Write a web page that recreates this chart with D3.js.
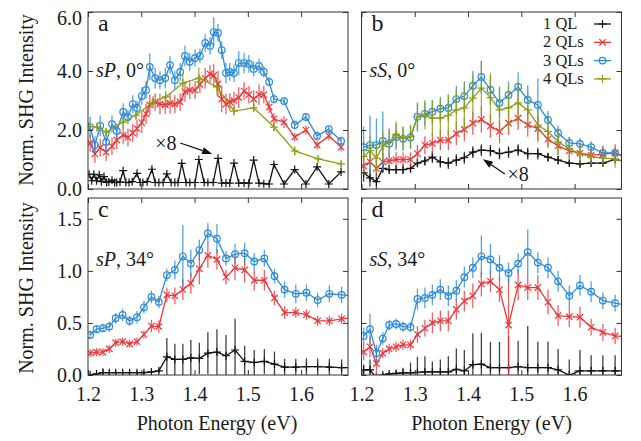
<!DOCTYPE html>
<html>
<head>
<meta charset="utf-8">
<script src="https://cdn.jsdelivr.net/npm/d3@7"></script>
<style>
body { margin: 0; background: #fff; }
svg text { font-family: "Liberation Serif", "DejaVu Serif", serif; fill: #1a1a1a; }
</style>
</head>
<body>
<svg id="chart"></svg>
<script>
// photon energies (eV)
const energy10 = [1.204,1.216,1.228,1.240,1.252,1.265,1.278,1.292,1.305,1.319,1.333,1.348,1.363,1.378,1.393,1.409,1.425,1.442,1.459,1.476,1.494,1.512,1.531,1.550,1.569,1.590,1.610,1.631,1.653,1.676,1.698];
const energyA = [1.204,1.213,1.223,1.234,1.245,1.254,1.266,1.275,1.284,1.292,1.301,1.309,1.316,1.326,1.335,1.345,1.354,1.363,1.373,1.382,1.391,1.401,1.410,1.420,1.429,1.436,1.444,1.451,1.459,1.466,1.474,1.483,1.493,1.502,1.511,1.521,1.530,1.540,1.549,1.568,1.588,1.609,1.630,1.652,1.675];
const energyA4 = [1.202,1.217,1.234,1.266,1.290,1.322,1.346,1.378,1.408,1.442,1.474,1.511,1.549,1.588,1.632,1.675];
const energyA1 = [1.202,1.207,1.211,1.216,1.221,1.225,1.230,1.235,1.239,1.245,1.250,1.254,1.260,1.266,1.271,1.277,1.283,1.292,1.298,1.303,1.311,1.320,1.326,1.333,1.341,1.348,1.356,1.363,1.369,1.376,1.384,1.391,1.401,1.408,1.418,1.425,1.435,1.444,1.451,1.459,1.466,1.474,1.483,1.493,1.502,1.511,1.521,1.530,1.540,1.549,1.568,1.588,1.609,1.630,1.652,1.675];

// panel a: sP, 0 deg
const a1QL = [0.50,0.28,0.50,0.28,0.48,0.25,0.42,0.22,0.24,0.30,0.22,0.22,0.24,0.62,0.22,0.22,0.25,0.53,0.22,0.22,0.25,0.67,0.22,0.22,0.22,0.51,0.22,0.22,0.22,0.87,0.22,0.22,0.22,1.00,0.22,0.22,0.22,1.04,0.20,0.20,0.20,0.88,0.20,0.20,0.20,0.98,0.20,0.18,0.17,0.83,0.17,0.66,0.17,0.75,0.17,0.58];
const a2QL = [1.56,1.19,1.40,1.25,1.45,1.66,1.83,1.75,1.90,2.05,2.25,2.55,2.85,2.95,2.88,2.85,2.90,2.88,2.95,3.30,3.35,3.35,3.55,3.75,3.90,3.85,3.56,3.05,2.88,2.95,3.00,3.10,3.32,3.20,3.05,3.20,3.20,2.78,2.37,2.27,1.76,2.00,1.49,1.80,1.42];
const a2Err = [0.3,0.3,0.3,0.3,0.3,0.3,0.3,0.3,0.3,0.3,0.35,0.35,0.35,0.3,0.35,0.3,0.35,0.3,0.3,0.35,0.3,0.3,0.3,0.35,0.3,0.4,0.45,0.45,0.35,0.3,0.3,0.35,0.3,0.3,0.3,0.35,0.3,0.2,0.2,0.2,0.15,0.15,0.15,0.15,0.15];
const a3QL = [2.10,1.49,2.14,1.59,2.20,1.97,2.61,2.44,2.88,2.75,3.15,3.36,4.14,3.76,3.69,3.76,4.20,3.69,3.97,4.51,4.31,4.44,4.51,4.95,4.85,5.32,5.29,4.71,3.93,3.97,3.93,4.27,4.27,4.24,4.07,4.17,3.97,3.63,3.05,2.98,2.17,2.44,1.80,2.03,1.63];
const a3Err = [0.35,0.3,0.35,0.3,0.3,0.25,0.3,0.25,0.3,0.25,0.3,0.3,0.45,0.35,0.3,0.35,0.3,0.3,0.3,0.35,0.3,0.3,0.25,0.3,0.3,0.5,0.3,0.3,0.35,0.3,0.3,0.4,0.35,0.3,0.25,0.25,0.2,0.15,0.15,0.1,0.15,0.1,0.15,0.1,0.15];
const a4QL = [2.12,2.10,1.93,2.27,2.50,2.95,3.12,3.59,3.76,3.46,2.64,2.75,2.10,1.29,1.02,0.85];
const a4Err = [0.15,0.15,0.15,0.2,0.15,0.2,0.2,0.3,0.35,0.3,0.15,0.15,0.15,0.15,0.1,0.1];

// panel b: sS, 0 deg
const b1QL = [0.55,0.38,0.25,0.70,0.66,0.66,0.66,0.70,0.88,0.95,1.08,0.92,0.88,0.98,1.06,1.25,1.32,1.30,1.20,1.25,1.32,1.20,1.20,1.08,0.98,0.88,0.85,0.88,0.88,1.00,0.92];
const b1Err = [0.3,0.3,0.3,0.15,0.15,0.15,0.15,0.15,0.15,0.15,0.2,0.2,0.2,0.2,0.2,0.2,0.2,0.2,0.2,0.2,0.2,0.2,0.2,0.15,0.15,0.1,0.1,0.1,0.1,0.1,0.1];
const b2QL = [0.78,0.92,0.70,0.92,0.95,1.00,1.00,1.00,1.20,1.49,1.55,1.66,1.66,1.88,2.02,2.23,2.36,2.14,1.95,2.23,2.40,2.17,2.05,1.69,1.46,1.29,1.22,1.15,1.18,1.22,1.08];
const b2Err = [0.3,0.3,0.3,0.3,0.25,0.25,0.25,0.25,0.3,0.3,0.35,0.35,0.35,0.4,0.4,0.4,0.45,0.4,0.4,0.4,0.4,0.4,0.4,0.3,0.3,0.25,0.25,0.3,0.3,0.3,0.3];
const b3QL = [1.42,1.49,1.49,1.63,1.53,1.76,1.70,1.75,2.45,2.55,2.62,2.72,2.75,3.05,3.15,3.50,3.80,3.36,2.92,3.19,3.46,3.02,2.85,2.34,1.90,1.56,1.53,1.42,1.22,1.22,1.05];
const b3Err = [0.7,1.0,0.9,1.0,0.5,0.45,0.4,0.4,0.45,0.4,0.4,0.4,0.45,0.45,0.5,0.5,0.55,0.5,0.5,0.45,0.5,0.5,0.9,0.3,0.25,0.2,0.2,0.2,0.2,0.2,0.2];
const b4QL = [1.10,1.30,1.05,1.45,1.60,1.85,1.72,1.78,2.44,2.52,2.40,2.40,2.50,2.68,2.75,3.08,3.42,3.10,2.68,2.75,2.92,2.68,2.17,1.95,1.60,1.36,1.19,1.10,1.05,1.02,0.90];
const b4Err = [0.5,0.5,0.5,0.5,0.45,0.45,0.4,0.4,0.5,0.5,0.6,0.65,0.7,0.7,0.75,0.8,0.9,0.85,0.8,0.75,0.7,0.65,0.6,0.5,0.45,0.4,0.35,0.3,0.3,0.3,0.3];

// panel c: sP, 34 deg
const c1QL = [0.0,0.01,0.022,0.022,0.022,0.022,0.022,0.022,0.022,0.03,0.04,0.175,0.15,0.15,0.165,0.16,0.21,0.22,0.185,0.24,0.13,0.12,0.13,0.105,0.075,0.075,0.08,0.08,0.075,0.07,0.07];
const c1Err = [0.01,0.01,0.04,0.02,0.02,0.02,0.02,0.02,0.02,0.02,0.02,0.18,0.15,0.15,0.17,0.15,0.2,0.22,0.2,0.3,0.15,0.12,0.12,0.12,0.08,0.08,0.08,0.08,0.08,0.08,0.08];
const c2QL = [0.21,0.22,0.22,0.25,0.31,0.32,0.30,0.32,0.39,0.47,0.465,0.77,0.76,0.82,0.88,1.02,1.15,1.11,0.94,1.03,1.01,0.91,0.91,0.74,0.60,0.60,0.58,0.52,0.52,0.54,0.55];
const c2Err = [0.04,0.04,0.04,0.04,0.04,0.04,0.04,0.04,0.04,0.06,0.06,0.07,0.08,0.1,0.1,0.15,0.12,0.1,0.07,0.12,0.12,0.1,0.1,0.07,0.06,0.05,0.05,0.05,0.05,0.05,0.05];
const c3QL = [0.385,0.44,0.45,0.465,0.545,0.577,0.52,0.555,0.65,0.75,0.70,0.96,1.01,1.14,1.07,1.20,1.36,1.31,1.12,1.16,1.17,1.09,1.12,0.95,0.82,0.78,0.79,0.72,0.78,0.77,0.76];
const c3Err = [0.04,0.04,0.04,0.05,0.05,0.06,0.05,0.06,0.06,0.06,0.06,0.06,0.09,0.3,0.13,0.1,0.1,0.14,0.07,0.1,0.1,0.08,0.08,0.07,0.08,0.09,0.08,0.07,0.08,0.08,0.08];

// panel d: sS, 34 deg
const d1QL = [0.05,0.05,-0.03,0.0,0.01,0.015,0.02,0.02,0.025,0.03,0.03,0.03,0.03,0.055,0.04,0.10,0.105,0.07,0.07,0.07,0.08,0.07,0.07,0.07,0.05,0.0,0.04,0.04,0.04,0.04,0.04];
const d1Err = [0.05,0.1,0.05,0.02,0.02,0.03,0.05,0.1,0.15,0.15,0.1,0.12,0.15,0.2,0.2,0.3,0.3,0.25,0.25,0.3,0.25,0.4,0.25,0.25,0.2,0.15,0.2,0.15,0.15,0.15,0.15];
const d2QL = [0.22,0.27,0.11,0.21,0.25,0.27,0.29,0.29,0.39,0.45,0.50,0.52,0.52,0.63,0.71,0.76,0.875,0.90,0.82,0.48,0.865,0.84,0.84,0.70,0.57,0.56,0.555,0.46,0.41,0.375,0.37];
const d2Err = [0.08,0.1,0.15,0.05,0.05,0.05,0.05,0.05,0.08,0.08,0.1,0.1,0.1,0.1,0.1,0.12,0.12,0.1,0.12,0.48,0.15,0.12,0.12,0.12,0.1,0.1,0.1,0.08,0.08,0.08,0.08];
const d3QL = [0.375,0.44,0.21,0.35,0.48,0.49,0.465,0.46,0.73,0.74,0.77,0.82,0.76,0.81,0.94,1.03,1.14,1.11,1.03,0.98,1.07,1.18,1.08,1.03,0.90,0.76,0.86,0.80,0.715,0.69,0.67];
const d3Err = [0.08,0.15,0.08,0.06,0.05,0.05,0.05,0.05,0.1,0.1,0.1,0.1,0.1,0.1,0.1,0.1,0.2,0.15,0.12,0.1,0.1,0.22,0.1,0.1,0.1,0.1,0.1,0.1,0.08,0.08,0.08];

const legendNames = ['1 QL', '2 QLs', '3 QLs', '4 QLs'];
const xTicks = [1.2, 1.3, 1.4, 1.5, 1.6];
const yTicksTop = [0, 2, 4, 6];
const yTicksBottom = [0, 0.5, 1.0, 1.5];

const style = {
    '1 QL': { color: '#111111', marker: 'plus' },
    '2 QLs': { color: '#e8383b', marker: 'cross' },
    '3 QLs': { color: '#2b8bd6', marker: 'circle' },
    '4 QLs': { color: '#8c9e14', marker: 'plus' }
};

const panels = [
    { letter: 'a', col: 0, row: 0, pol: 'sP', ang: '0°', series: [
        { name: '1 QL', x: energyA1, y: a1QL, err: null },
        { name: '2 QLs', x: energyA, y: a2QL, err: a2Err },
        { name: '3 QLs', x: energyA, y: a3QL, err: a3Err },
        { name: '4 QLs', x: energyA4, y: a4QL, err: a4Err }] },
    { letter: 'b', col: 1, row: 0, pol: 'sS', ang: '0°', series: [
        { name: '1 QL', x: energy10, y: b1QL, err: b1Err },
        { name: '2 QLs', x: energy10, y: b2QL, err: b2Err },
        { name: '3 QLs', x: energy10, y: b3QL, err: b3Err },
        { name: '4 QLs', x: energy10, y: b4QL, err: b4Err }] },
    { letter: 'c', col: 0, row: 1, pol: 'sP', ang: '34°', series: [
        { name: '1 QL', x: energy10, y: c1QL, err: c1Err },
        { name: '2 QLs', x: energy10, y: c2QL, err: c2Err },
        { name: '3 QLs', x: energy10, y: c3QL, err: c3Err }] },
    { letter: 'd', col: 1, row: 1, pol: 'sS', ang: '34°', series: [
        { name: '1 QL', x: energy10, y: d1QL, err: d1Err },
        { name: '2 QLs', x: energy10, y: d2QL, err: d2Err },
        { name: '3 QLs', x: energy10, y: d3QL, err: d3Err }] }
];

// "x8" annotations, in data units of their panel
const notes = [
    { panel: 'a', text: [1.326, 1.32], tail: [1.373, 1.56], head: [1.433, 1.19] },
    { panel: 'b', text: [1.474, 0.27], tail: [1.469, 0.51], head: [1.428, 1.01] }
];

//layout
const W = 641, H = 441;
const colX = [88, 361.5], rowY = [12, 198];
const pw = 260, ph = 177;

const svg = d3.select('#chart').attr('width', W).attr('height', H);
svg.append('rect').attr('width', W).attr('height', H).attr('fill', '#fff');
const defs = svg.append('defs');

function drawMarker(g, type, cx, cy, color) {
    if (type === 'circle') {
        g.append('circle').attr('cx', cx).attr('cy', cy).attr('r', 3.3)
            .attr('fill', 'none').attr('stroke', color).attr('stroke-width', 1.2);
    } else if (type === 'plus') {
        g.append('path').attr('d', `M${cx - 4},${cy}H${cx + 4}M${cx},${cy - 4}V${cy + 4}`)
            .attr('stroke', color).attr('stroke-width', 1.2);
    } else {
        const s = 3.2;
        g.append('path').attr('d', `M${cx - s},${cy - s}L${cx + s},${cy + s}M${cx - s},${cy + s}L${cx + s},${cy - s}`)
            .attr('stroke', color).attr('stroke-width', 1.2);
    }
}

function arrow(g, x1, y1, x2, y2) {
    const ang = Math.atan2(y2 - y1, x2 - x1), L = 10, w = 3.6;
    const bx = x2 - L * Math.cos(ang), by = y2 - L * Math.sin(ang);
    g.append('line').attr('x1', x1).attr('y1', y1).attr('x2', bx).attr('y2', by)
        .attr('stroke', '#111').attr('stroke-width', 1.2);
    g.append('path')
        .attr('d', `M${x2},${y2}L${bx + w * Math.sin(ang)},${by - w * Math.cos(ang)}L${bx - w * Math.sin(ang)},${by + w * Math.cos(ang)}Z`)
        .attr('fill', '#111');
}

const scales = {};

panels.forEach(p => {
    const x0 = colX[p.col], y0 = rowY[p.row];
    const x = d3.scaleLinear().domain([1.2, 1.688]).range([x0, x0 + pw]);
    const y = d3.scaleLinear().domain(p.row === 0 ? [0, 6] : [0, 1.7]).range([y0 + ph, y0]);
    scales[p.letter] = { x, y };
    const g = svg.append('g');

    // clip
    const cid = 'clip-' + p.letter;
    defs.append('clipPath').attr('id', cid).append('rect')
        .attr('x', x0).attr('y', y0).attr('width', pw).attr('height', ph);
    const plot = g.append('g').attr('clip-path', `url(#${cid})`);

    // series
    p.series.forEach(s => {
        const st = style[s.name];
        const pts = s.x.map((e, i) => ({ e, v: s.y[i], err: s.err ? s.err[i] : 0 }));
        const sg = plot.append('g');
        if (s.err) {
            sg.selectAll('line.err').data(pts).enter().append('line')
                .attr('x1', d => x(d.e)).attr('x2', d => x(d.e))
                .attr('y1', d => y(d.v - d.err)).attr('y2', d => y(d.v + d.err))
                .attr('stroke', st.color).attr('stroke-width', 1.3).attr('stroke-opacity', 0.8);
        }
        sg.append('path').datum(pts)
            .attr('d', d3.line().x(d => x(d.e)).y(d => y(d.v)))
            .attr('fill', 'none').attr('stroke', st.color).attr('stroke-width', 1.3);
        pts.forEach(d => drawMarker(sg, st.marker, x(d.e), y(d.v), st.color));
    });

    // axes, ticks point inward
    const yt = p.row === 0 ? yTicksTop : yTicksBottom;
    const showX = p.row === 1, showY = p.col === 0;
    const ax = [
        g.append('g').attr('transform', `translate(0,${y0 + ph})`)
            .call(d3.axisBottom(x).tickValues(xTicks).tickSize(-5).tickPadding(12).tickFormat(showX ? d3.format('.1f') : '')),
        g.append('g').attr('transform', `translate(0,${y0})`)
            .call(d3.axisTop(x).tickValues(xTicks).tickSize(-5).tickFormat('')),
        g.append('g').attr('transform', `translate(${x0},0)`)
            .call(d3.axisLeft(y).tickValues(yt).tickSize(-5).tickPadding(6).tickFormat(showY ? d3.format('.1f') : '')),
        g.append('g').attr('transform', `translate(${x0 + pw},0)`)
            .call(d3.axisRight(y).tickValues(yt).tickSize(-5).tickFormat(''))
    ];
    ax.forEach(a => {
        a.select('.domain').remove();
        a.selectAll('line').attr('stroke', '#333');
        a.selectAll('text').style('font-size', '20px').attr('fill', '#1a1a1a');
    });
    if (p.letter === 'a') {
        ax[2].selectAll('.tick text').filter(d => d === 6).attr('dy', '0.6em');
    }
    g.append('rect').attr('x', x0).attr('y', y0).attr('width', pw).attr('height', ph)
        .attr('fill', 'none').attr('stroke', '#333').attr('stroke-width', 1);

    // labels
    g.append('text').attr('x', x0 + 10).attr('y', y0 + 19).style('font-size', '24px').text(p.letter);
    const lab = g.append('text').attr('x', x0 + 8).attr('y', y0 + (p.row === 0 ? 65 : 68)).style('font-size', '20px');
    lab.append('tspan').style('font-style', 'italic').text(p.pol);
    lab.append('tspan').text(', ' + p.ang);
});

// x8 annotations
notes.forEach(n => {
    const s = scales[n.panel];
    svg.append('text').attr('x', s.x(n.text[0])).attr('y', s.y(n.text[1]))
        .style('font-size', '20px').text('×8');
    arrow(svg, s.x(n.tail[0]), s.y(n.tail[1]), s.x(n.head[0]), s.y(n.head[1]));
});

// legend
const leg = svg.append('g');
legendNames.forEach((name, i) => {
    const by = 29 + i * 18.3;
    const st = style[name];
    leg.append('text').attr('x', 543).attr('y', by).style('font-size', '16.5px').text(name);
    leg.append('line').attr('x1', 594).attr('x2', 611).attr('y1', by - 5).attr('y2', by - 5)
        .attr('stroke', st.color).attr('stroke-width', 1.3);
    drawMarker(leg, st.marker, 602.5, by - 5, st.color);
});

// axis titles
[100, 288].forEach(cy => {
    svg.append('text').attr('transform', `translate(33,${cy}) rotate(-90)`)
        .style('text-anchor', 'middle').style('font-size', '20px').text('Norm. SHG Intensity');
});
[colX[0] + 129, colX[1] + 130].forEach(cx => {
    svg.append('text').attr('x', cx).attr('y', 430)
        .style('text-anchor', 'middle').style('font-size', '20px').text('Photon Energy (eV)');
});
</script>
</body>
</html>
